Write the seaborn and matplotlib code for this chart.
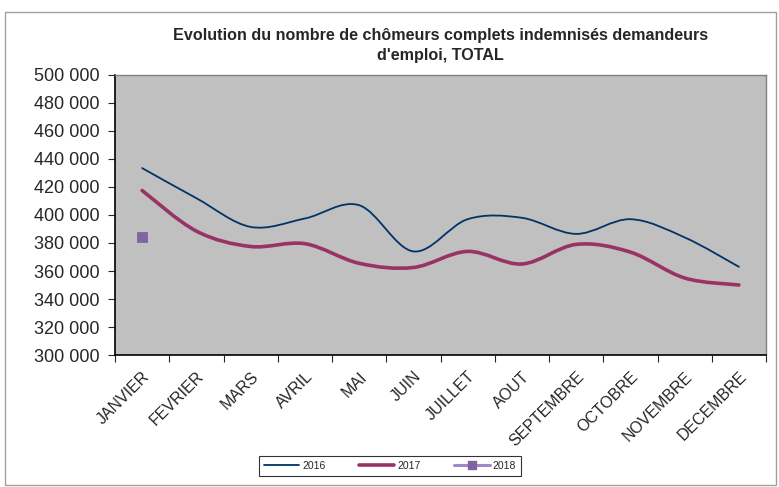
import numpy as np
import matplotlib
matplotlib.use('Agg')
import matplotlib.pyplot as plt
import seaborn as sns
import pandas as pd
from matplotlib.path import Path
from matplotlib.patches import PathPatch, Rectangle
from matplotlib.lines import Line2D
from matplotlib.ticker import FuncFormatter, MultipleLocator

# données
mois = ['JANVIER', 'FEVRIER', 'MARS', 'AVRIL', 'MAI', 'JUIN', 'JUILLET',
        'AOUT', 'SEPTEMBRE', 'OCTOBRE', 'NOVEMBRE', 'DECEMBRE']
chomeurs_2016 = [433500, 412000, 391500, 397500, 407000, 374000, 397000,
                 398000, 386500, 397000, 384000, 363000]
chomeurs_2017 = [417500, 388500, 377500, 379500, 365500, 362500, 374000,
                 365000, 379000, 373500, 355000, 350000]
chomeurs_2018 = [384300]

sns.set_style('white')
plt.rcParams['font.family'] = ['Liberation Sans', 'DejaVu Sans']

couleur_2016 = '#003366'
couleur_2017 = '#993366'
couleur_2018 = '#8064A2'


def courbe_lissee(y):
    """Chemin de Bézier type 'lissage' Excel à partir des points"""
    x = np.arange(len(y), dtype=float)
    y = np.asarray(y, dtype=float)
    pts = np.column_stack([x, y])
    verts = [pts[0]]
    codes = [Path.MOVETO]
    n = len(pts)
    for i in range(n - 1):
        p0 = pts[max(i - 1, 0)]
        p1 = pts[i]
        p2 = pts[i + 1]
        p3 = pts[min(i + 2, n - 1)]
        c1 = p1 + (p2 - p0) / 6
        c2 = p2 - (p3 - p1) / 6
        verts += [c1, c2, p2]
        codes += [Path.CURVE4] * 3
    return Path(verts, codes)


fig = plt.figure(figsize=(7.79, 4.87), dpi=100)
ax = fig.add_axes([115 / 779, 1 - 355 / 487, 651 / 779, 280 / 487])
ax.set_facecolor('#C0C0C0')

ax.add_patch(PathPatch(courbe_lissee(chomeurs_2016), fill=False,
                       edgecolor=couleur_2016, lw=1.3, capstyle='round'))
ax.add_patch(PathPatch(courbe_lissee(chomeurs_2017), fill=False,
                       edgecolor=couleur_2017, lw=2.6, capstyle='round'))

df18 = pd.DataFrame({'x': np.arange(len(chomeurs_2018)), 'y': chomeurs_2018})
sns.scatterplot(data=df18, x='x', y='y', ax=ax, marker='s', s=55,
                color=couleur_2018, edgecolor=couleur_2018, zorder=5)

ax.set_xlim(-0.5, len(mois) - 0.5)
ax.set_ylim(300000, 500000)
ax.set_xlabel('')
ax.set_ylabel('')

ax.yaxis.set_major_locator(MultipleLocator(20000))
ax.yaxis.set_major_formatter(FuncFormatter(lambda v, p: f'{int(v):,}'.replace(',', ' ')))
ax.tick_params(axis='y', which='major', length=5, width=0.8, direction='out',
               labelsize=13, pad=6, left=True)

ax.set_xticks(range(len(mois)))
ax.set_xticklabels(mois, rotation=45, ha='right', va='top',
                   rotation_mode='anchor', fontsize=11.5)
ax.set_xticks(np.arange(-0.5, len(mois)), minor=True)
ax.tick_params(axis='x', which='major', length=0, pad=10)
ax.tick_params(axis='x', which='minor', length=5, width=0.8, direction='out',
               bottom=True)

for cote in ['top', 'right']:
    ax.spines[cote].set_color('#808080')
    ax.spines[cote].set_linewidth(1.0)
for cote in ['left', 'bottom']:
    ax.spines[cote].set_color('black')
    ax.spines[cote].set_linewidth(1.2)

ax.set_title("Evolution du nombre de chômeurs complets indemnisés demandeurs\nd'emploi, TOTAL",
             fontsize=11.6, fontweight='bold', pad=11, linespacing=1.4)

# légende
poignees = [
    Line2D([0], [0], color=couleur_2016, lw=1.3),
    Line2D([0], [0], color=couleur_2017, lw=2.6),
    Line2D([0], [0], color='#9F8AC6', lw=2.2, marker='s', markersize=6,
           markerfacecolor=couleur_2018, markeredgecolor=couleur_2018),
]
leg = fig.legend(poignees, ['2016', '2017', '2018'], loc='center',
                 bbox_to_anchor=(390 / 779, 1 - 466 / 487), ncol=3,
                 fontsize=7.5, handlelength=3.4, columnspacing=3.2,
                 handletextpad=0.3, frameon=True, fancybox=False,
                 borderpad=0.5, borderaxespad=0.0)
leg.get_frame().set_edgecolor('black')
leg.get_frame().set_linewidth(0.8)

# cadre extérieur du graphique
fig.patches.append(Rectangle((5 / 779, 2 / 487), 771 / 779, 473 / 487,
                             transform=fig.transFigure, fill=False,
                             edgecolor='#A0A0A0', lw=1.0))

fig.savefig('out.png', dpi=100)
